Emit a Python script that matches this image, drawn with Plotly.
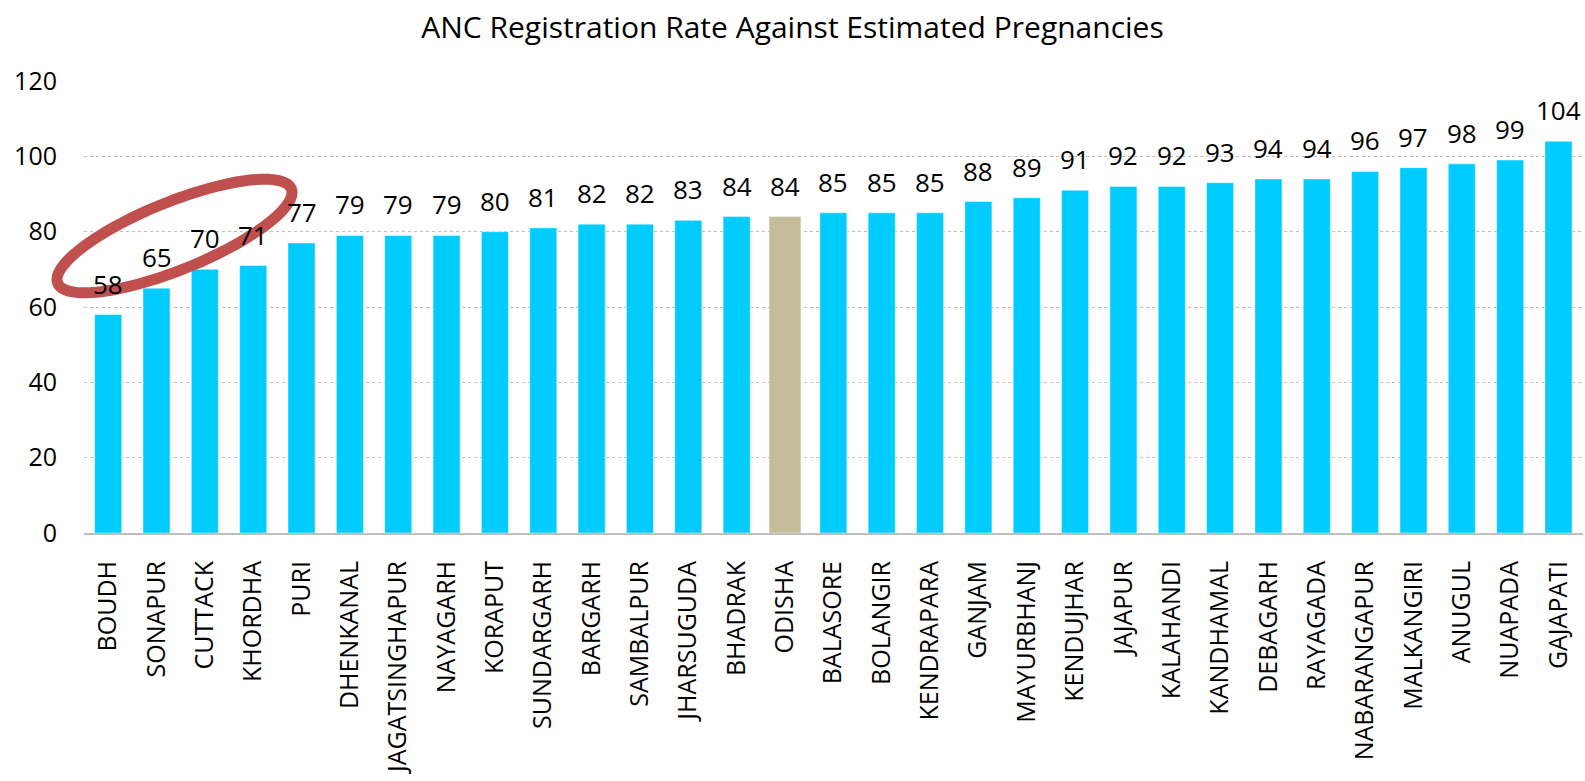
import numpy as np
import plotly.graph_objects as go

districts = ["BOUDH", "SONAPUR", "CUTTACK", "KHORDHA", "PURI", "DHENKANAL", "JAGATSINGHAPUR",
             "NAYAGARH", "KORAPUT", "SUNDARGARH", "BARGARH", "SAMBALPUR", "JHARSUGUDA", "BHADRAK",
             "ODISHA", "BALASORE", "BOLANGIR", "KENDRAPARA", "GANJAM", "MAYURBHANJ", "KENDUJHAR",
             "JAJAPUR", "KALAHANDI", "KANDHAMAL", "DEBAGARH", "RAYAGADA", "NABARANGAPUR",
             "MALKANGIRI", "ANUGUL", "NUAPADA", "GAJAPATI"]
rates = [58, 65, 70, 71, 77, 79, 79, 79, 80, 81, 82, 82, 83, 84, 84, 85, 85, 85, 88, 89, 91,
         92, 92, 93, 94, 94, 96, 97, 98, 99, 104]
y_ticks = [0, 20, 40, 60, 80, 100, 120]
title_text = "ANC Registration Rate Against Estimated Pregnancies"
state_name = "ODISHA"

FONT = "Open Sans"
W, H = 1585, 781
L, R, T, B = 84, 2, 81, 248

colors = ["#C4BD97" if d == state_name else "#00CCFF" for d in districts]
widths = [0.66 if d == state_name else 0.56 for d in districts]

fig = go.Figure()
fig.add_trace(go.Bar(
    x=districts, y=rates,
    marker=dict(color=colors, line=dict(color="rgba(255,255,255,0.45)", width=1)),
    width=widths,
    hoverinfo="x+y",
))

annotations = []
for d, v in zip(districts, rates):
    annotations.append(dict(
        x=d, y=v, xref="x", yref="y", text=str(v), showarrow=False,
        yanchor="bottom", yshift=11, font=dict(family=FONT, size=26, color="#000000"),
    ))

# red ellipse highlight (pixel geometry converted to paper coordinates)
pw, ph = W - L - R, H - T - B
cx, cy, a, b, ang = 174.5, 236.0, 126.0, 34.0, np.deg2rad(-22)
t = np.linspace(0, 2 * np.pi, 121)
ex = cx + a * np.cos(t) * np.cos(ang) - b * np.sin(t) * np.sin(ang)
ey = cy + a * np.cos(t) * np.sin(ang) + b * np.sin(t) * np.cos(ang)
px = (ex - L) / pw
py = (T + ph - ey) / ph
path = "M " + " L ".join(f"{u:.5f},{w:.5f}" for u, w in zip(px, py)) + " Z"

fig.update_layout(
    width=W, height=H,
    margin=dict(l=L, r=R, t=T, b=B, autoexpand=False),
    paper_bgcolor="white", plot_bgcolor="white",
    title=dict(text=title_text, x=0.5, xref="container", xanchor="center", y=1 - 27 / H, yanchor="middle",
               font=dict(family=FONT, size=30, color="#000000")),
    showlegend=False,
    bargap=0.44,
    font=dict(family=FONT, color="#000000"),
    xaxis=dict(
        tickangle=-90, tickfont=dict(family=FONT, size=25, color="#000000"),
        showgrid=False, showline=True, linecolor="#BFBFBF", linewidth=2,
        ticks="", ticklabelstandoff=16, fixedrange=True,
    ),
    yaxis=dict(
        range=[0, 120], tickvals=y_ticks, tickfont=dict(family=FONT, size=25, color="#000000"),
        showgrid=True, gridcolor="#BFBFBF", griddash="dot", gridwidth=1,
        zeroline=False, showline=False, ticks="", ticklabelstandoff=26, fixedrange=True,
    ),
    annotations=annotations,
    shapes=[dict(type="path", xref="paper", yref="paper", path=path,
                 line=dict(color="#C0504D", width=11), fillcolor="rgba(0,0,0,0)", layer="above")],
)

fig.write_html(
    "out.html",
    config={"displayModeBar": False},
    post_script="document.body.style.margin='0';document.body.style.padding='0';"
                "document.documentElement.style.overflow='hidden';",
)
